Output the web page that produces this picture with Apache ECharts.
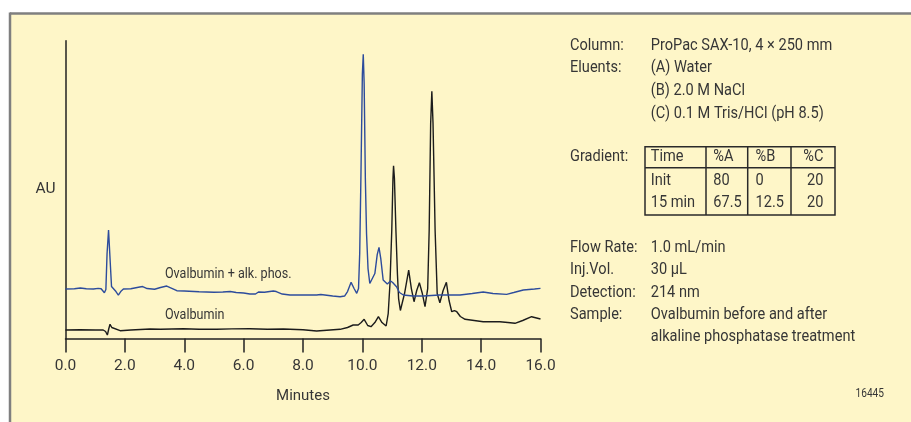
<!DOCTYPE html>
<html>
<head>
<meta charset="utf-8">
<script src="https://cdn.jsdelivr.net/npm/echarts@6/dist/echarts.min.js"></script>
<style>
html,body{margin:0;padding:0;background:#ffffff;}
#chart{width:911px;height:422px;}
</style>
</head>
<body>
<div id="chart"></div>
<script>
// ---- data (minutes, AU arbitrary units) ----
const blueTime = [0.00,0.30,0.50,0.70,0.94,1.10,1.20,1.31,1.36,1.40,1.45,1.50,1.55,1.61,1.70,1.78,1.86,1.95,2.20,2.50,2.60,2.75,3.00,3.20,3.41,3.60,3.75,4.00,4.50,5.00,5.30,5.55,5.75,6.00,6.21,6.40,6.50,6.70,7.00,7.10,7.30,7.56,8.00,8.46,8.60,9.00,9.25,9.40,9.50,9.62,9.72,9.81,9.87,9.91,9.95,10.00,10.03,10.06,10.10,10.14,10.19,10.25,10.31,10.42,10.50,10.56,10.62,10.70,10.84,10.95,11.02,11.15,11.25,11.38,11.70,12.05,12.60,13.29,13.70,14.07,14.40,14.86,15.10,15.42,15.80,16.00];
const blueAU   = [49.5,49.8,50.5,49.8,49.5,50.2,49.8,45.8,49.0,85.0,108.5,80.0,52.0,50.2,47.0,43.5,47.0,49.5,49.8,51.5,52.0,50.0,49.3,51.0,52.5,50.0,47.8,47.5,46.8,46.3,46.5,47.0,46.0,45.5,44.5,44.5,46.5,46.3,47.5,47.0,44.5,43.5,43.5,43.5,44.0,42.5,41.8,42.5,47.0,56.2,50.0,45.2,50.0,85.0,160.0,265.0,284.5,255.0,160.0,105.0,70.0,55.0,53.5,65.0,84.0,91.2,80.0,58.5,54.5,57.5,56.0,51.8,46.0,43.5,42.5,42.5,43.5,43.5,45.0,46.5,45.0,44.2,46.0,48.5,49.5,50.2];

const blackTime = [0.00,0.50,1.00,1.27,1.35,1.41,1.46,1.50,1.56,1.61,1.84,2.20,2.85,3.20,3.97,4.50,5.09,5.60,6.21,6.80,7.34,8.00,8.46,8.80,9.25,9.50,9.69,9.86,9.96,10.06,10.18,10.29,10.42,10.54,10.66,10.80,10.87,10.93,10.99,11.03,11.05,11.08,11.13,11.18,11.22,11.28,11.32,11.42,11.56,11.65,11.74,11.83,11.92,12.02,12.11,12.20,12.25,12.30,12.34,12.38,12.45,12.52,12.61,12.72,12.83,12.92,13.01,13.10,13.18,13.30,13.46,14.07,14.63,14.90,15.14,15.40,15.70,16.00];
const blackAU   = [8.5,8.8,8.5,8.5,7.0,3.5,10.0,14.2,11.0,9.2,7.8,8.5,9.5,9.3,9.8,9.3,9.2,9.6,9.8,9.3,9.5,8.8,7.5,8.3,9.2,11.0,13.5,13.5,16.0,19.2,13.0,11.8,16.0,21.8,16.0,12.5,25.0,55.0,108.0,160.0,172.8,160.0,108.0,65.0,40.0,28.0,26.8,45.0,68.5,50.0,36.8,48.0,55.8,45.0,31.8,50.0,108.0,215.0,247.5,215.0,108.0,45.0,35.8,48.0,56.2,38.0,26.8,28.0,26.8,22.0,19.2,16.8,16.8,16.0,15.2,18.0,21.8,19.5];

const seriesNames = ['Ovalbumin + alk. phos.', 'Ovalbumin'];
const xTicks = [0, 2, 4, 6, 8, 10, 12, 14, 16];

const infoLabels = ['Column:', 'Eluents:', '', '', 'Gradient:', 'Flow Rate:', 'Inj.Vol.', 'Detection:', 'Sample:', ''];
const infoValues = ['ProPac SAX-10, 4 × 250 mm', '(A) Water', '(B) 2.0 M NaCl', '(C) 0.1 M Tris/HCl (pH 8.5)', '', '1.0 mL/min', '30 µL', '214 nm', 'Ovalbumin before and after', 'alkaline phosphatase treatment'];
const gradientHeader = ['Time', '%A', '%B', '%C'];
const gradientRows = [['Init', '80', '0', '20'], ['15 min', '67.5', '12.5', '20']];
const figureId = '16445';

// ---- styling ----
const FONT = "Roboto, 'DejaVu Sans', sans-serif";
const TXT = '#363636';
const BG = '#fef6c8';

function pairs(t, v) { return t.map((x, i) => [x, v[i]]); }

function txt(s, x, y, size, sx, align) {
  return { type: 'text', x: x, y: y, scaleX: sx, z: 10,
    style: { text: s, x: 0, y: 0, fontFamily: FONT, fontSize: size, fill: TXT, verticalAlign: 'middle', align: align || 'left' } };
}

const chart = echarts.init(document.getElementById('chart'), null, { renderer: 'canvas' });

const INFO_SIZE = 16.4, INFO_SX = 0.89;
const infoY = [45.5, 68.2, 91, 113.7, 157.3, 247.5, 270, 292.5, 315, 337];
const graphics = [
  { type: 'rect', z: -10, shape: { x: 10, y: 13, width: 901, height: 409 }, style: { fill: BG } },
  { type: 'line', z: -9, shape: { x1: 10, y1: 13.5, x2: 911, y2: 13.5 }, style: { stroke: '#7f7f7f', lineWidth: 2.5 } },
  { type: 'line', z: -9, shape: { x1: 10, y1: 12.5, x2: 10, y2: 422 }, style: { stroke: '#7f7f7f', lineWidth: 2.5 } }
];
infoLabels.forEach((s, i) => { if (s) graphics.push(txt(s, 570, infoY[i], INFO_SIZE, INFO_SX)); });
infoValues.forEach((s, i) => { if (s) graphics.push(txt(s, 650.7, infoY[i], INFO_SIZE, INFO_SX)); });

// gradient table
const tL = 645, tR = 835, tT = 146.7, tH = 167.7, tB = 215;
const colDiv = [706, 747.7, 791];
const colX = [650.7, 713.3, 755.5, 823.5];
const colAlign = ['left', 'left', 'left', 'right'];
const rowY = [157.3, 181, 202.7];
const tableStroke = { stroke: '#2a2a2a', lineWidth: 1.5 };
graphics.push({ type: 'rect', shape: { x: tL, y: tT, width: tR - tL, height: tB - tT }, style: Object.assign({ fill: 'none' }, tableStroke) });
graphics.push({ type: 'line', shape: { x1: tL, y1: tH, x2: tR, y2: tH }, style: tableStroke });
colDiv.forEach(x => graphics.push({ type: 'line', shape: { x1: x, y1: tT, x2: x, y2: tB }, style: tableStroke }));
[gradientHeader].concat(gradientRows).forEach((row, r) => {
  row.forEach((s, c) => graphics.push(txt(s, colX[c], rowY[r], INFO_SIZE, INFO_SX, colAlign[c])));
});
graphics.push(txt(figureId, 884, 393.3, 13, 0.78, 'right'));

const option = {
  backgroundColor: '#ffffff',
  animation: false,
  grid: { left: 65.5, right: 370.5, top: 40.7, bottom: 83.5, outerBoundsMode: 'none' },
  xAxis: {
    type: 'value', min: 0, max: 16, interval: 2,
    name: 'Minutes', nameLocation: 'middle', nameGap: 50,
    nameTextStyle: { fontFamily: FONT, fontSize: 15, color: TXT },
    axisLine: { show: true, onZero: false, lineStyle: { color: '#222', width: 1.5 } },
    axisTick: { show: true, length: 14, lineStyle: { color: '#222', width: 1.5 } },
    axisLabel: { margin: 20, fontFamily: FONT, fontSize: 15.5, color: TXT, formatter: v => (xTicks.indexOf(v) >= 0 ? v.toFixed(1) : '') },
    splitLine: { show: false }
  },
  yAxis: {
    type: 'value', min: 0, max: 298,
    name: 'AU', nameLocation: 'middle', nameRotate: 0, nameGap: 10,
    nameTextStyle: { fontFamily: FONT, fontSize: 15.5, color: TXT },
    axisLine: { show: true, lineStyle: { color: '#222', width: 1.5 } },
    axisTick: { show: false }, axisLabel: { show: false }, splitLine: { show: false }
  },
  series: [
    { name: seriesNames[0], type: 'line', data: pairs(blueTime, blueAU), showSymbol: false, smooth: false,
      lineStyle: { color: '#2d4c9c', width: 1.4 }, z: 3 },
    { name: seriesNames[1], type: 'line', data: pairs(blackTime, blackAU), showSymbol: false, smooth: false,
      lineStyle: { color: '#1c1c1c', width: 1.4 }, z: 2 }
  ],
  graphic: graphics
};
chart.setOption(option);

// series name labels anchored in data coordinates
const labelAnchors = [[3.35, 64], [3.35, 23.5]];
const extra = labelAnchors.map((a, i) => {
  const p = chart.convertToPixel({ gridIndex: 0 }, a);
  return txt(seriesNames[i], p[0], p[1], 14.8, 0.85);
});
chart.setOption({ graphic: graphics.concat(extra) });
</script>
</body>
</html>
